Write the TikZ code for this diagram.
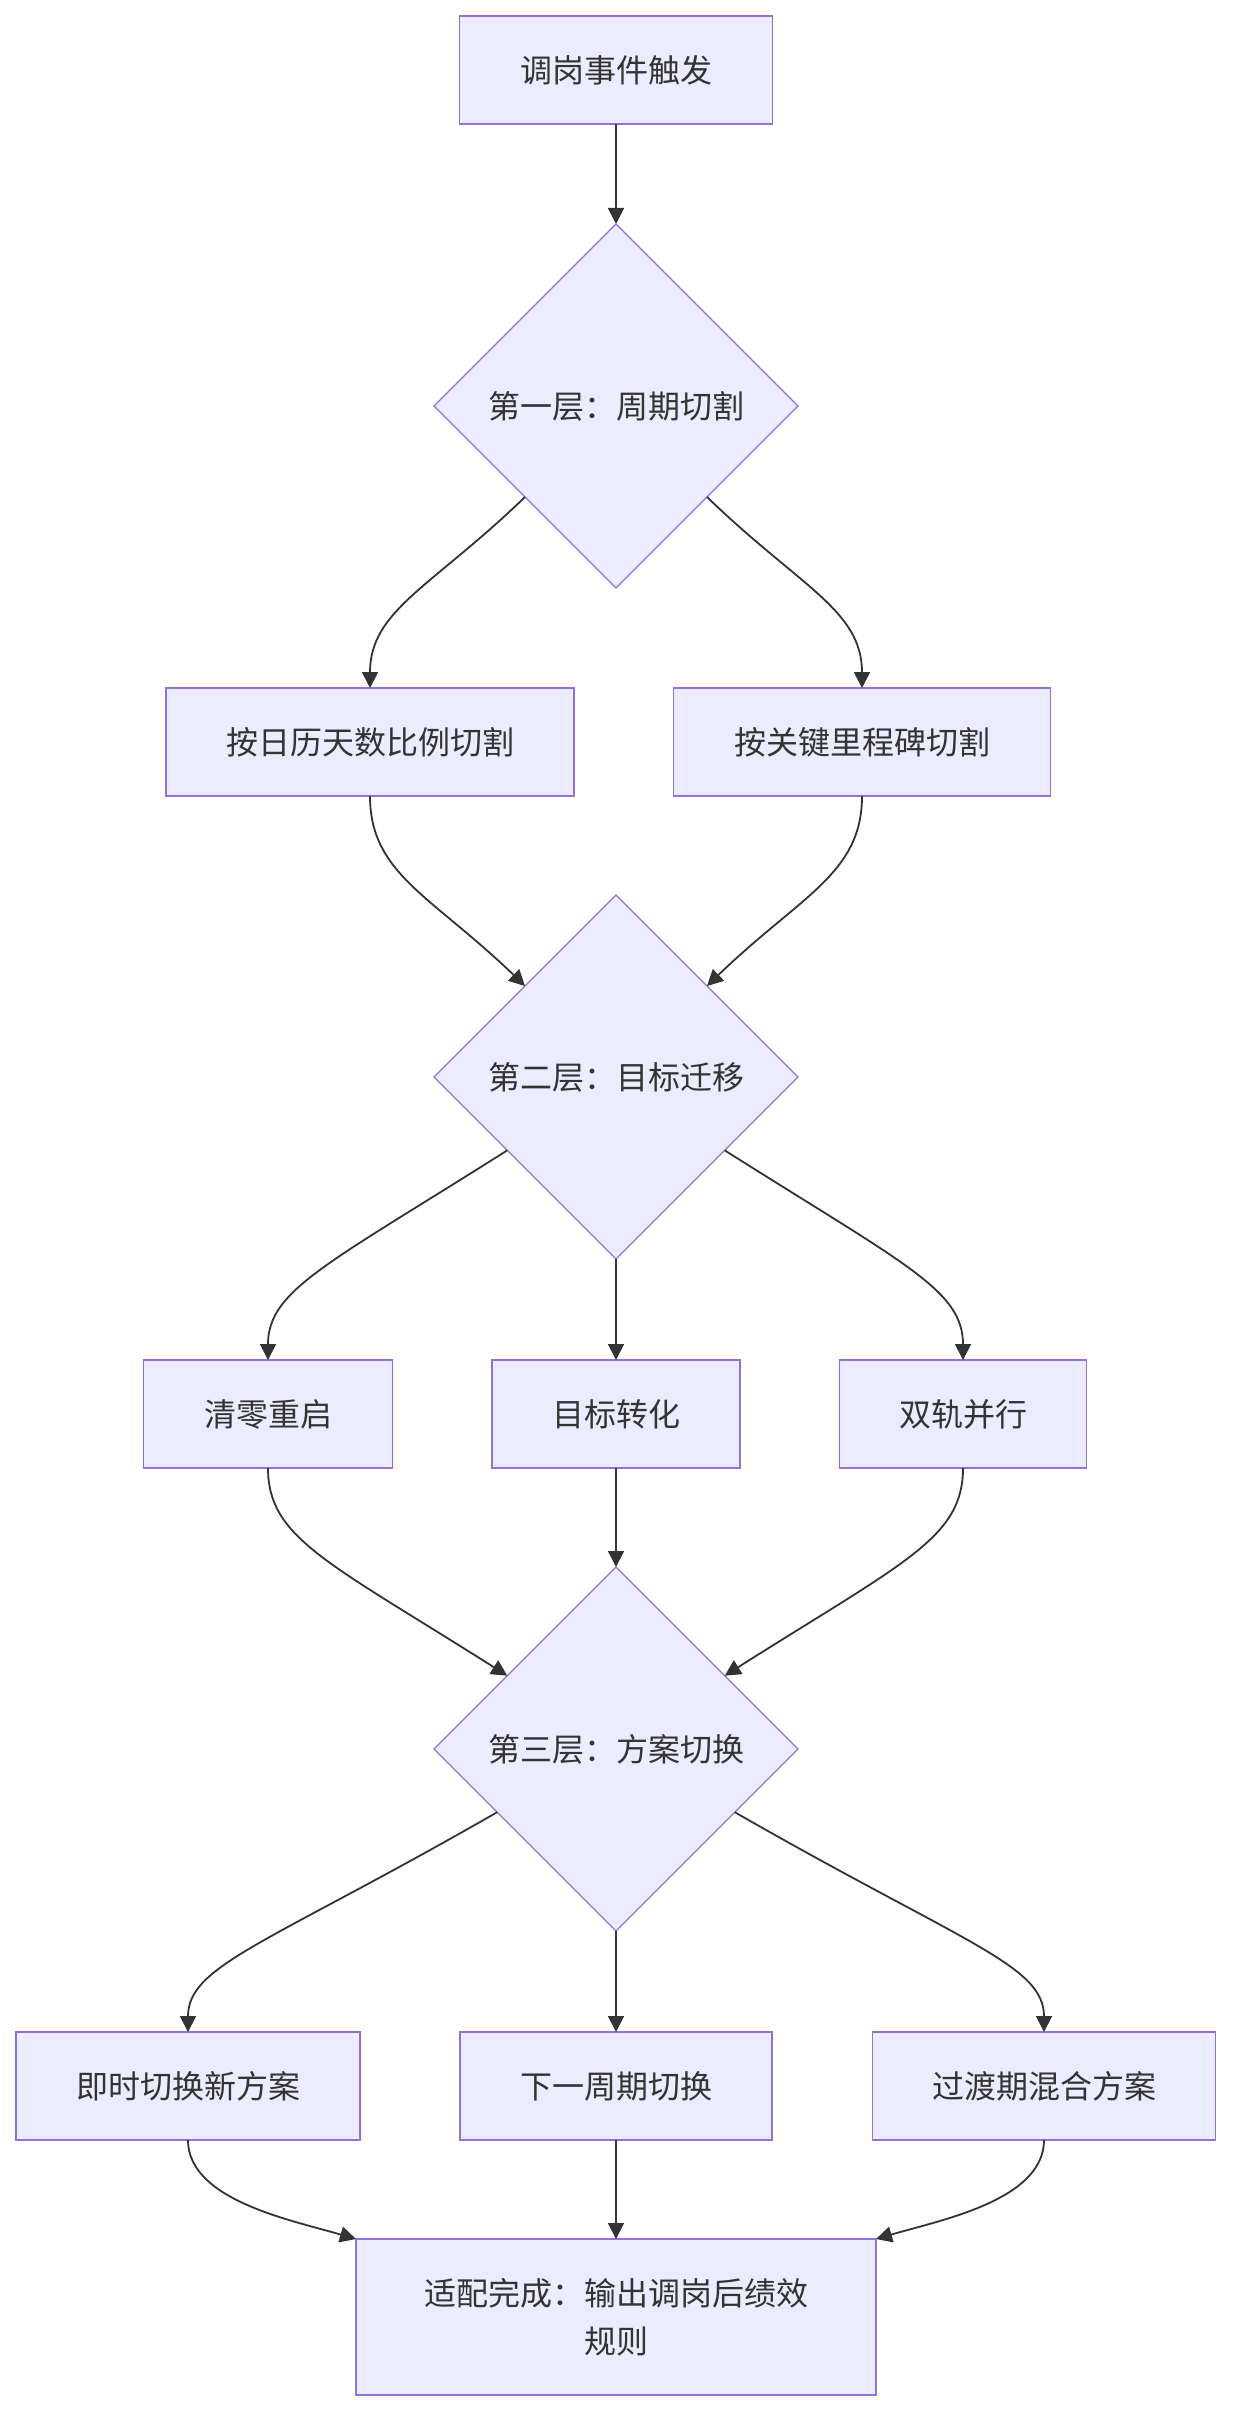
\documentclass[tikz,border=0pt]{standalone}
\usepackage{fontspec}
\newfontfamily\cjk{Noto Sans CJK SC}
\usetikzlibrary{arrows.meta,shapes.geometric}
\definecolor{mmFill}{HTML}{ECECFF}
\definecolor{mmLine}{HTML}{9370DB}
\definecolor{mmText}{HTML}{333333}
\tikzset{
  arr/.style={-{Triangle[length=8pt,width=8pt]}, line width=0.9pt, draw=mmText},
  flowbox/.style={rectangle, draw=mmLine, fill=mmFill, line width=0.9pt, minimum height=54pt, inner sep=0pt, outer sep=0pt, align=center, text=mmText, font=\cjk\fontsize{16}{24}\selectfont},
  layer/.style={diamond, aspect=1, draw=mmLine, fill=mmFill, line width=0.6pt, minimum width=182pt, minimum height=182pt, inner sep=0pt, outer sep=0pt, align=center, text=mmText, font=\cjk\fontsize{16}{24}\selectfont}
}
\begin{document}
\begin{tikzpicture}[x=0.5pt,y=-0.5pt]
  \path[use as bounding box, fill=white] (0,0) rectangle (1232,2412);
  % trigger and first layer
  \node[flowbox, minimum width=156.5pt] (trig) at (616,70) {调岗事件触发};
  \node[layer] (cut) at (616,406) {第一层：周期切割};
  \node[flowbox, minimum width=204pt] (calr) at (370,742) {按日历天数比例切割};
  \node[flowbox, minimum width=188.5pt] (mile) at (862,742) {按关键里程碑切割};
  % second layer
  \node[layer] (goal) at (616,1077) {第二层：目标迁移};
  \node[flowbox, minimum width=124.5pt] (reset) at (268,1414) {清零重启};
  \node[flowbox, minimum width=124pt] (conv) at (616,1414) {目标转化};
  \node[flowbox, minimum width=123.5pt] (dual) at (963,1414) {双轨并行};
  % third layer
  \node[layer] (plan) at (616,1749) {第三层：方案切换};
  \node[flowbox, minimum width=172pt] (now) at (188,2086) {即时切换新方案};
  \node[flowbox, minimum width=156pt] (next) at (616,2086) {下一周期切换};
  \node[flowbox, minimum width=171.5pt] (mix) at (1044,2086) {过渡期混合方案};
  \node[flowbox, minimum width=260pt, minimum height=78pt] (done) at (616,2317) {适配完成：输出调岗后绩效\\规则};
  % connectors
  \foreach \a/\b in {trig/cut,goal/conv,conv/plan,plan/next,next/done}{\draw[arr] (\a) -- (\b);}
  \draw[arr] (cut.south west) .. controls +(-93,90) and +(0,-78) .. (calr.north);
  \draw[arr] (cut.south east) .. controls +(93,90) and +(0,-78) .. (mile.north);
  \draw[arr] (calr.south) .. controls +(0,78) and +(-93,-90) .. (goal.north west);
  \draw[arr] (mile.south) .. controls +(0,78) and +(93,-90) .. (goal.north east);
  \draw[arr] (goal.214) .. controls +(-180,114) and +(0,-70) .. (reset.north);
  \draw[arr] (goal.326) .. controls +(180,114) and +(0,-70) .. (dual.north);
  \draw[arr] (reset.south) .. controls +(0,70) and +(-180,-114) .. (plan.146);
  \draw[arr] (dual.south) .. controls +(0,70) and +(180,-114) .. (plan.34);
  \draw[arr] (plan.208) .. controls +(-230,132) and +(0,-67) .. (now.north);
  \draw[arr] (plan.332) .. controls +(230,132) and +(0,-67) .. (mix.north);
  \draw[arr] (now.south) .. controls +(0,60) and +(-65,-19) .. (done.north west);
  \draw[arr] (mix.south) .. controls +(0,60) and +(65,-19) .. (done.north east);
\end{tikzpicture}
\end{document}
